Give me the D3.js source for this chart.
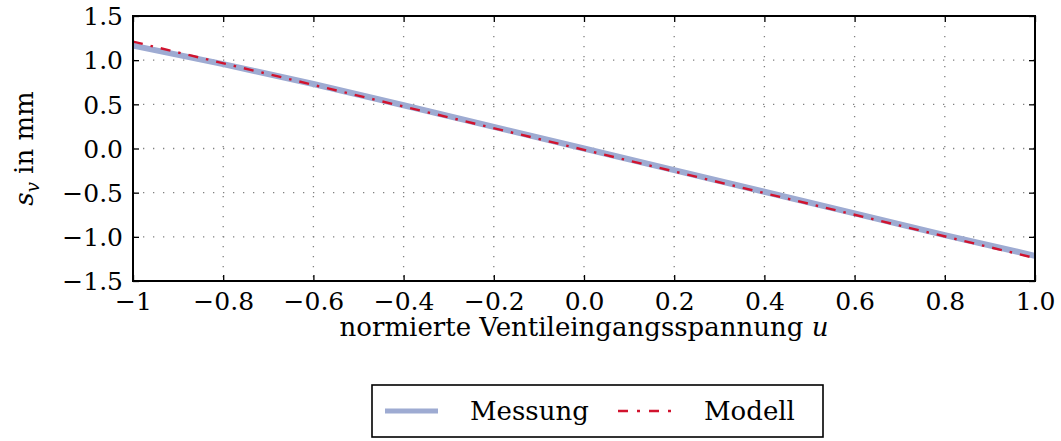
<!DOCTYPE html>
<html>
<head>
<meta charset="utf-8">
<script src="https://cdn.jsdelivr.net/npm/d3@7"></script>
<style>
  body { margin: 0; background: white; }
  text { font-family: "DejaVu Serif", serif; }
</style>
</head>
<body>
<div id="chart"></div>
<script>
// data
const xTicks = [-1, -0.8, -0.6, -0.4, -0.2, 0, 0.2, 0.4, 0.6, 0.8, 1];
const xTickLabels = ["−1", "−0.8", "−0.6", "−0.4", "−0.2", "0.0", "0.2", "0.4", "0.6", "0.8", "1.0"];
const yTicks = [-1.5, -1, -0.5, 0, 0.5, 1, 1.5];
const yTickLabels = ["−1.5", "−1.0", "−0.5", "0.0", "0.5", "1.0", "1.5"];

const messungU = [-1, -0.8, -0.6, -0.4, -0.2, 0, 0.2, 0.4, 0.6, 0.8, 1];
const messungS = [1.165, 0.955, 0.73, 0.49, 0.245, 0.0, -0.245, -0.49, -0.735, -0.98, -1.215];
const modellU = [-1, 1];
const modellS = [1.21, -1.24];

const legendNames = ["Messung", "Modell"];

const FONT = "DejaVu Serif";

// layout
const width = 1061, height = 441;
const margin = { left: 133, right: 26, top: 16, bottom: 160 };

let svg = d3.select('#chart').append('svg')
    .attr('width', width)
    .attr('height', height)
    .attr('font-family', FONT);

let x = d3.scaleLinear().domain([-1, 1]).range([margin.left, width - margin.right]);
let y = d3.scaleLinear().domain([-1.5, 1.5]).range([height - margin.bottom, margin.top]);

// dotted grid
let grid = svg.append('g');
grid.selectAll('line.gx')
    .data(xTicks)
    .enter().append('line')
    .attr('x1', d => x(d)).attr('x2', d => x(d))
    .attr('y1', y(1.5)).attr('y2', y(-1.5))
    .attr('stroke', '#808080').attr('stroke-width', 1.3)
    .attr('stroke-dasharray', '1.3,8.7');
grid.selectAll('line.gy')
    .data(yTicks)
    .enter().append('line')
    .attr('y1', d => y(d)).attr('y2', d => y(d))
    .attr('x1', x(-1)).attr('x2', x(1))
    .attr('stroke', '#808080').attr('stroke-width', 1.3)
    .attr('stroke-dasharray', '1.3,8.7');

// series
let line = d3.line().x(d => x(d[0])).y(d => y(d[1]));

svg.append('path')
    .datum(d3.zip(messungU, messungS))
    .attr('d', line)
    .attr('fill', 'none')
    .attr('stroke', '#9eabd2')
    .attr('stroke-width', 6);

svg.append('path')
    .datum(d3.zip(modellU, modellS))
    .attr('d', line)
    .attr('fill', 'none')
    .attr('stroke', '#d1132e')
    .attr('stroke-width', 2.4)
    .attr('stroke-dasharray', '10,8,2.5,8');

// axes: inward ticks on all four sides
svg.append('g')
    .attr('transform', `translate(0,${y(-1.5)})`)
    .call(d3.axisBottom(x).tickValues(xTicks).tickSizeInner(-6).tickSizeOuter(0).tickFormat((d, i) => xTickLabels[i]))
    .call(g => g.select('.domain').remove())
    .attr('font-family', FONT).attr('font-size', 25)
    .call(g => g.selectAll('text').attr('dy', 0).attr('y', 29).attr('fill', 'black'));

svg.append('g')
    .attr('transform', `translate(0,${y(1.5)})`)
    .call(d3.axisTop(x).tickValues(xTicks).tickSizeInner(-6).tickSizeOuter(0).tickFormat(''))
    .call(g => g.select('.domain').remove());

svg.append('g')
    .attr('transform', `translate(${x(-1)},0)`)
    .call(d3.axisLeft(y).tickValues(yTicks).tickSizeInner(-6).tickSizeOuter(0).tickFormat((d, i) => yTickLabels[i]))
    .call(g => g.select('.domain').remove())
    .attr('font-family', FONT).attr('font-size', 25)
    .call(g => g.selectAll('text').attr('x', -10).attr('dy', '0.35em').attr('fill', 'black'));

svg.append('g')
    .attr('transform', `translate(${x(1)},0)`)
    .call(d3.axisRight(y).tickValues(yTicks).tickSizeInner(-6).tickSizeOuter(0).tickFormat(''))
    .call(g => g.select('.domain').remove());

svg.selectAll('.tick line').attr('stroke', 'black').attr('stroke-width', 1.3);

// frame
svg.append('rect')
    .attr('x', x(-1)).attr('y', y(1.5))
    .attr('width', x(1) - x(-1)).attr('height', y(-1.5) - y(1.5))
    .attr('fill', 'none').attr('stroke', 'black').attr('stroke-width', 2);

// axis labels
svg.append('text')
    .attr('x', (x(-1) + x(1)) / 2).attr('y', 336)
    .attr('text-anchor', 'middle')
    .attr('font-size', 26)
    .html('normierte Ventileingangsspannung <tspan font-style="italic">u</tspan>');

svg.append('text')
    .attr('transform', `translate(33,${y(0)}) rotate(-90)`)
    .attr('text-anchor', 'middle')
    .attr('font-size', 26)
    .html('<tspan font-style="italic">s</tspan><tspan font-style="italic" font-size="18" dy="6">v</tspan><tspan dy="-6"> in mm</tspan>');

// legend
let legend = svg.append('g');
legend.append('rect')
    .attr('x', 372).attr('y', 385).attr('width', 451).attr('height', 52)
    .attr('fill', 'white').attr('stroke', 'black').attr('stroke-width', 1.6);

legend.append('line')
    .attr('x1', 385).attr('x2', 438).attr('y1', 411).attr('y2', 411)
    .attr('stroke', '#9eabd2').attr('stroke-width', 5);
legend.append('text')
    .attr('x', 470).attr('y', 420)
    .attr('font-size', 26)
    .text(legendNames[0]);

legend.append('line')
    .attr('x1', 618).attr('x2', 672).attr('y1', 411).attr('y2', 411)
    .attr('stroke', '#d1132e').attr('stroke-width', 2.4)
    .attr('stroke-dasharray', '10,9,3,9');
legend.append('text')
    .attr('x', 704).attr('y', 420)
    .attr('font-size', 26)
    .text(legendNames[1]);
</script>
</body>
</html>
